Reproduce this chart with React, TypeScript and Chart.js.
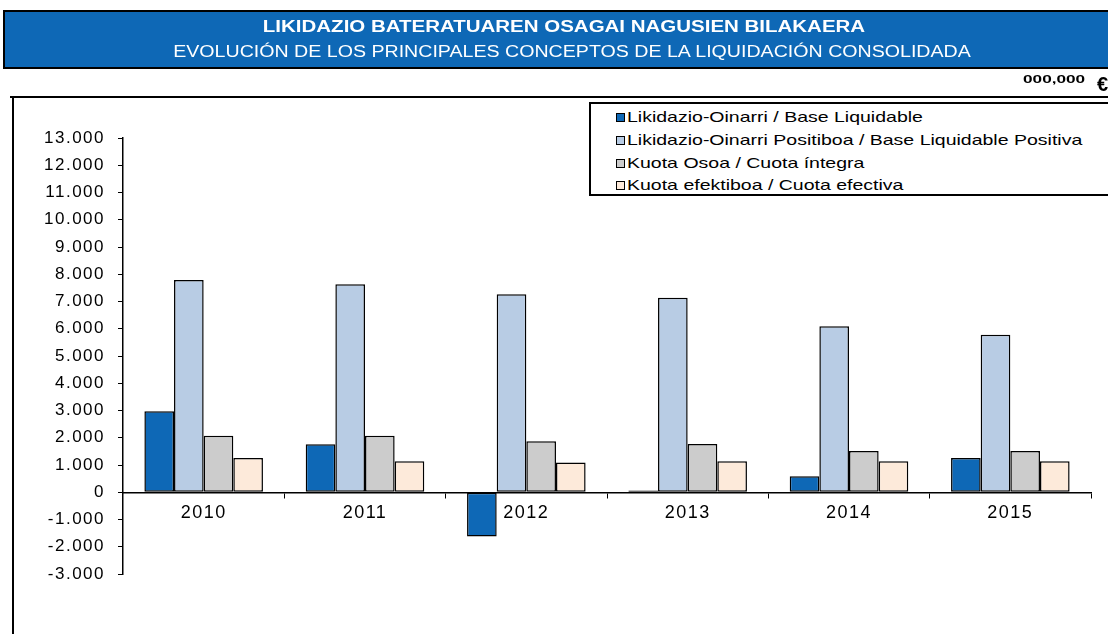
import React, { useEffect, useRef } from "react";
import { Chart, registerables } from "chart.js";

Chart.register(...registerables);

// ---- Data ----
const categories = ["2010", "2011", "2012", "2013", "2014", "2015"];
const baseLiquidable = [2975, 1760, -1620, 60, 590, 1260];
const basePositiva = [7790, 7630, 7270, 7140, 6090, 5780];
const cuotaIntegra = [2070, 2070, 1870, 1770, 1510, 1510];
const cuotaEfectiva = [1260, 1140, 1090, 1140, 1140, 1140];
const seriesNames = [
  "Likidazio-Oinarri / Base Liquidable",
  "Likidazio-Oinarri Positiboa / Base Liquidable Positiva",
  "Kuota Osoa / Cuota íntegra",
  "Kuota efektiboa / Cuota efectiva",
];
const seriesColors = ["#0E68B6", "#B8CCE4", "#CCCCCC", "#FDEADA"];
const yMin = -3000;
const yMax = 13000;
const yStep = 1000;
const titleEu = "LIKIDAZIO BATERATUAREN OSAGAI NAGUSIEN BILAKAERA";
const titleEs = "EVOLUCIÓN DE LOS PRINCIPALES CONCEPTOS DE LA LIQUIDACIÓN CONSOLIDADA";
const unitLabel = "000,000";
const currencyLabel = "€";

const FONT = '"Liberation Sans", Arial, sans-serif';

function formatThousands(v: number): string {
  const neg = v < 0;
  const s = Math.abs(Math.round(v)).toString();
  const out = s.replace(/\B(?=(\d{3})+(?!\d))/g, ".");
  return (neg ? "-" : "") + out;
}

const SPACING = "1.5px";
const spacingPlugin = {
  id: "letterSpacingPlugin",
  beforeInit(chart: any) {
    chart.ctx.letterSpacing = SPACING;
  },
  beforeLayout(chart: any) {
    chart.ctx.letterSpacing = SPACING;
  },
  beforeDraw(chart: any) {
    chart.ctx.letterSpacing = SPACING;
  },
};

export default function App() {
  const canvasRef = useRef<HTMLCanvasElement | null>(null);

  useEffect(() => {
    document.body.style.margin = "0";
    const canvas = canvasRef.current;
    if (!canvas) return;
    const seriesData = [baseLiquidable, basePositiva, cuotaIntegra, cuotaEfectiva];
    const chart = new Chart(canvas, {
      type: "bar",
      data: {
        labels: categories,
        datasets: seriesData.map((d, i) => ({
          label: seriesNames[i],
          data: d,
          backgroundColor: seriesColors[i],
          borderColor: "#000000",
          borderWidth: 1.5,
          borderSkipped: false,
          categoryPercentage: 0.735,
          barPercentage: 1.0,
        })),
      },
      options: {
        responsive: false,
        animation: false,
        maintainAspectRatio: false,
        layout: { padding: { left: 0, top: 138, right: 17, bottom: 60 } },
        plugins: {
          legend: { display: false },
          title: { display: false },
          tooltip: { enabled: false },
        },
        scales: {
          x: {
            position: { y: 0 } as any,
            grid: {
              offset: true,
              drawOnChartArea: false,
              drawTicks: true,
              tickLength: 5,
              color: "#000000",
              lineWidth: 1,
            },
            border: { display: true, color: "#000000", width: 1.5 },
            ticks: {
              color: "#000000",
              font: { family: FONT, size: 18 },
              padding: 5,
              maxRotation: 0,
              autoSkip: false,
            },
          },
          y: {
            min: yMin,
            max: yMax,
            afterFit(scale: any) {
              scale.width = 123;
            },
            grid: {
              drawOnChartArea: false,
              drawTicks: true,
              tickLength: 5,
              color: "#000000",
              lineWidth: 1,
            },
            border: { display: true, color: "#000000", width: 1.5 },
            ticks: {
              stepSize: yStep,
              autoSkip: false,
              color: "#000000",
              font: { family: FONT, size: 17 },
              padding: 13,
              callback: (v: any) => formatThousands(Number(v)),
            },
          },
        },
      },
      plugins: [spacingPlugin],
    });
    return () => chart.destroy();
  }, []);

  return (
    <div
      style={{
        position: "fixed",
        left: 0,
        top: 0,
        width: 1108,
        height: 634,
        overflow: "hidden",
        background: "#ffffff",
        fontFamily: FONT,
      }}
    >
      <canvas
        ref={canvasRef}
        width={1108}
        height={634}
        style={{ position: "absolute", left: 0, top: 0, width: 1108, height: 634 }}
      />
      {/* Header band */}
      <div
        style={{
          position: "absolute",
          left: 3,
          top: 10,
          width: 1130,
          height: 55,
          background: "#0E68B6",
          borderTop: "2px solid #000",
          borderLeft: "2px solid #000",
          borderBottom: "2px solid #000",
        }}
      />
      <div
        style={{
          position: "absolute",
          left: 0,
          top: 17,
          width: 1128,
          height: 20,
          lineHeight: "20px",
          textAlign: "center",
          color: "#ffffff",
          fontWeight: "bold",
          fontSize: 16,
          whiteSpace: "nowrap",
          transform: "scaleX(1.28)",
          transformOrigin: "564px 50%",
        }}
      >
        {titleEu}
      </div>
      <div
        style={{
          position: "absolute",
          left: 0,
          top: 42,
          width: 1144,
          height: 20,
          lineHeight: "20px",
          textAlign: "center",
          color: "#ffffff",
          fontSize: 16,
          whiteSpace: "nowrap",
          transform: "scaleX(1.225)",
          transformOrigin: "572px 50%",
        }}
      >
        {titleEs}
      </div>
      {/* Unit label */}
      <div
        style={{
          position: "absolute",
          left: 1023,
          top: 70,
          height: 20,
          lineHeight: "20px",
          whiteSpace: "nowrap",
          color: "#000",
          fontWeight: "bold",
          fontSize: 10,
          transform: "scaleX(1.72)",
          transformOrigin: "0 50%",
        }}
      >
        {unitLabel}
      </div>
      <div
        style={{
          position: "absolute",
          left: 1097,
          top: 73,
          height: 22,
          lineHeight: "22px",
          whiteSpace: "nowrap",
          color: "#000",
          fontWeight: "bold",
          fontSize: 20,
        }}
      >
        {currencyLabel}
      </div>
      {/* Frame lines */}
      <div
        style={{
          position: "absolute",
          left: 10,
          top: 96,
          width: 1110,
          height: 2,
          background: "#000",
        }}
      />
      <div
        style={{
          position: "absolute",
          left: 12,
          top: 96,
          width: 2,
          height: 560,
          background: "#000",
        }}
      />
      {/* Legend */}
      <div
        style={{
          position: "absolute",
          left: 589,
          top: 102,
          width: 540,
          height: 90,
          border: "2px solid #000",
          background: "#fff",
        }}
      >
        {seriesNames.map((name, i) => {
          const center = [13, 36, 59, 81][i];
          return (
            <div
              key={name}
              style={{
                position: "absolute",
                left: 0,
                top: center - 10,
                height: 20,
                width: 530,
              }}
            >
              <div
                style={{
                  position: "absolute",
                  left: 25,
                  top: 6,
                  width: 7,
                  height: 7,
                  background: seriesColors[i],
                  border: "1px solid #000",
                }}
              />
              <div
                style={{
                  position: "absolute",
                  left: 36,
                  top: 0,
                  height: 20,
                  lineHeight: "20px",
                  fontSize: 15,
                  color: "#000",
                  whiteSpace: "nowrap",
                  transform: "scaleX(1.3)",
                  transformOrigin: "0 50%",
                }}
              >
                {name}
              </div>
            </div>
          );
        })}
      </div>
    </div>
  );
}
